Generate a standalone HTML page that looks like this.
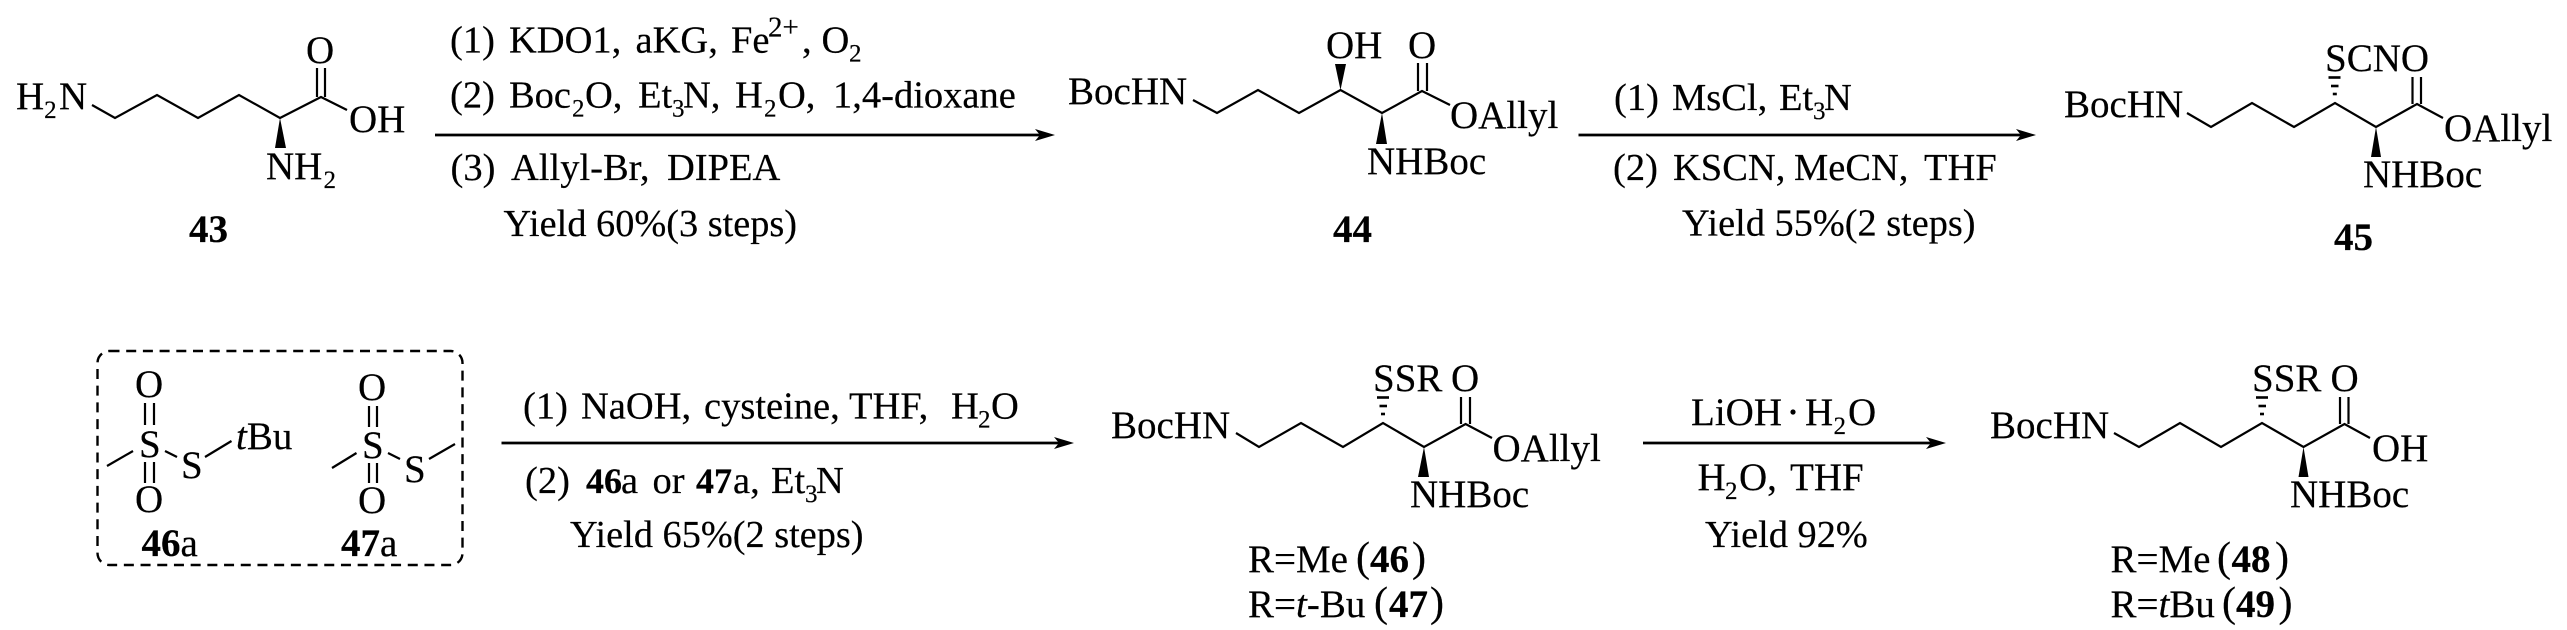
<!DOCTYPE html>
<html><head><meta charset="utf-8"><style>
html,body{margin:0;padding:0;background:#fff}
svg{display:block}
text{font-family:"Liberation Serif",serif;font-size:39px;fill:#000;stroke:#000;stroke-width:.2px}
.r{font-size:38.5px}
.y{font-size:38.3px}
.b{font-weight:bold}
.n{font-weight:bold;font-size:36px}
.i{font-style:italic}
.s{font-size:25px}
.u{font-size:29px}
.p{font-size:42px}
polyline,line{fill:none;stroke:#000;stroke-width:2.2}
.a{stroke-width:2.8}
</style></head><body>
<svg width="2567" height="630" viewBox="0 0 2567 630" xmlns="http://www.w3.org/2000/svg">
<rect width="2567" height="630" fill="#fff"/>

<!-- 43 -->
<text x="16" y="109">H<tspan class="s" dy="9">2</tspan><tspan x="59" dy="-9">N</tspan></text>
<polyline points="92,105 115,118 157,95 198,118 239,95 280,118 321,97 347,110"/>
<line x1="317" y1="97" x2="317" y2="68"/><line x1="325" y1="97" x2="325" y2="68"/>
<text x="306" y="63">O</text>
<text x="349" y="132">OH</text>
<polygon points="280,118 275,148 286,148"/>
<text x="266" y="179">NH<tspan class="s" x="323.5" dy="9">2</tspan></text>
<text class="b" x="189" y="242">43</text>

<!-- arrow 1 -->
<line class="a" x1="435" y1="135" x2="1045" y2="135"/>
<polygon points="1055,135 1035,129 1040,135 1035,141"/>
<text class="r" y="52.5"><tspan x="450">(1)</tspan><tspan x="509">KDO1,</tspan><tspan x="635.5">aKG,</tspan><tspan x="731">Fe</tspan><tspan class="u" x="768" dy="-16">2+</tspan><tspan x="802" dy="16">,</tspan><tspan x="821.5">O</tspan><tspan class="s" x="849" dy="9">2</tspan></text>
<text class="r" y="107.5"><tspan x="450">(2)</tspan><tspan x="509">Boc</tspan><tspan class="s" x="572" dy="9">2</tspan><tspan x="585" dy="-9">O,</tspan><tspan x="638">Et</tspan><tspan class="s" x="672" dy="9">3</tspan><tspan x="683" dy="-9">N,</tspan><tspan x="735">H</tspan><tspan class="s" x="764" dy="9">2</tspan><tspan x="778" dy="-9">O,</tspan><tspan x="833">1,4-dioxane</tspan></text>
<text class="r" y="180"><tspan x="450.5">(3)</tspan><tspan x="511">Allyl-Br,</tspan><tspan x="667">DIPEA</tspan></text>
<text class="y" x="503.5" y="236">Yield 60%(3 steps)</text>

<!-- 44 -->
<text x="1068" y="104">BocHN</text>
<polyline points="1193,100 1217,113 1258,90 1299,113 1340.5,90 1382,113 1422,91 1450,105"/>
<line x1="1418" y1="91" x2="1418" y2="63"/><line x1="1427" y1="91" x2="1427" y2="63"/>
<text x="1408" y="58">O</text>
<text x="1326" y="58">OH</text>
<polygon points="1340.5,90 1335,64 1346,64"/>
<text x="1450" y="128">OAllyl</text>
<polygon points="1382,113 1376,144 1387,144"/>
<text x="1367" y="174">NHBoc</text>
<text class="b" x="1333" y="242">44</text>

<!-- arrow 2 -->
<line class="a" x1="1578.5" y1="135" x2="2026" y2="135"/>
<polygon points="2036,135 2016,129 2021,135 2016,141"/>
<text class="r" y="110"><tspan x="1614">(1)</tspan><tspan x="1672">MsCl,</tspan><tspan x="1779">Et</tspan><tspan class="s" x="1813" dy="9">3</tspan><tspan x="1824" dy="-9">N</tspan></text>
<text class="r" y="180"><tspan x="1613">(2)</tspan><tspan x="1673">KSCN,</tspan><tspan x="1794">MeCN,</tspan><tspan x="1924">THF</tspan></text>
<text class="y" x="1682" y="235.5">Yield 55%(2 steps)</text>

<!-- 45 -->
<text x="2064" y="117">BocHN</text>
<polyline points="2187,113 2211,127 2252,103 2294,127 2335,103 2376,127 2417,104 2443,118"/>
<line x1="2412.5" y1="104" x2="2412.5" y2="77"/><line x1="2421" y1="104" x2="2421" y2="77"/>
<text x="2325" y="71">SCNO</text>
<g><line x1="2328.5" y1="77.5" x2="2340.5" y2="77.5" style="stroke-width:2.6"/><line x1="2331" y1="86" x2="2338.5" y2="86" style="stroke-width:2.6"/><line x1="2332.8" y1="94" x2="2336.8" y2="94" style="stroke-width:2.6"/></g>
<text x="2444" y="141">OAllyl</text>
<polygon points="2376,127 2371,157 2381,157"/>
<text x="2363" y="187">NHBoc</text>
<text class="b" x="2334" y="250">45</text>

<!-- dashed box -->
<rect x="97.5" y="351" width="365" height="214" rx="12" ry="12" fill="none" stroke="#000" stroke-width="2.4" stroke-dasharray="10 6.7"/>

<!-- 46a -->
<text x="135" y="397">O</text>
<line x1="145" y1="403" x2="145" y2="425"/><line x1="154" y1="403" x2="154" y2="425"/>
<text x="139" y="457">S</text>
<line x1="145" y1="462" x2="145" y2="483"/><line x1="154" y1="462" x2="154" y2="483"/>
<text x="135" y="512">O</text>
<line x1="107" y1="466" x2="133" y2="451"/>
<line x1="165" y1="451" x2="177" y2="457"/>
<text x="181" y="478">S</text>
<line x1="205" y1="457" x2="231.5" y2="441"/>
<text x="236" y="449"><tspan class="i">t</tspan>Bu</text>
<text x="141.5" y="556"><tspan class="b">46</tspan>a</text>

<!-- 47a -->
<text x="358" y="400">O</text>
<line x1="369" y1="406" x2="369" y2="427"/><line x1="377" y1="406" x2="377" y2="427"/>
<text x="362" y="458">S</text>
<line x1="369" y1="463" x2="369" y2="483"/><line x1="377" y1="463" x2="377" y2="483"/>
<text x="358" y="513">O</text>
<line x1="332" y1="468" x2="356.5" y2="453"/>
<line x1="388" y1="453" x2="400" y2="459"/>
<text x="404" y="482">S</text>
<line x1="429" y1="459" x2="455" y2="444"/>
<text x="341" y="556"><tspan class="b">47</tspan>a</text>

<!-- arrow 3 -->
<line class="a" x1="501.5" y1="443" x2="1064" y2="443"/>
<polygon points="1074,443 1054,437 1059,443 1054,449"/>
<text class="r" y="418.5"><tspan x="523">(1)</tspan><tspan x="581">NaOH,</tspan><tspan x="704">cysteine,</tspan><tspan x="849">THF,</tspan><tspan x="951">H</tspan><tspan class="s" x="978" dy="9">2</tspan><tspan x="991" dy="-9">O</tspan></text>
<text class="r" y="493"><tspan x="525">(2)</tspan><tspan class="n" x="586">46</tspan><tspan x="621">a</tspan><tspan x="652.5">or</tspan><tspan class="n" x="696">47</tspan><tspan x="733">a,</tspan><tspan x="771">Et</tspan><tspan class="s" x="805" dy="9">3</tspan><tspan x="816" dy="-9">N</tspan></text>
<text class="y" x="570" y="547">Yield 65%(2 steps)</text>

<!-- 46/47 -->
<text x="1111" y="438">BocHN</text>
<polyline points="1236,433 1259,447 1301,423 1343,447 1383,423 1424,447 1465.6,424 1492,438"/>
<line x1="1461" y1="424" x2="1461" y2="397"/><line x1="1470" y1="424" x2="1470" y2="397"/>
<text x="1373" y="391">SSR</text>
<text x="1451" y="391">O</text>
<g><line x1="1377" y1="397.5" x2="1389" y2="397.5" style="stroke-width:2.6"/><line x1="1379.5" y1="406" x2="1387" y2="406" style="stroke-width:2.6"/><line x1="1381" y1="414" x2="1385" y2="414" style="stroke-width:2.6"/></g>
<text x="1492.5" y="461">OAllyl</text>
<polygon points="1424,447 1418,477 1429,477"/>
<text x="1410" y="507">NHBoc</text>
<text x="1248" y="572">R=Me</text>
<text class="p" x="1356" y="571">(</text><text class="b" x="1370" y="572">46</text><text class="p" x="1412" y="571">)</text>
<text x="1248" y="617">R=<tspan class="i">t</tspan>-Bu</text>
<text class="p" x="1374" y="616">(</text><text class="b" x="1389" y="617">47</text><text class="p" x="1430" y="616">)</text>

<!-- arrow 4 -->
<line class="a" x1="1643" y1="443" x2="1936" y2="443"/>
<polygon points="1946,443 1926,437 1931,443 1926,449"/>
<text x="1691" y="425">LiOH</text>
<circle cx="1793" cy="412" r="2.6" fill="#000"/>
<text y="425"><tspan x="1805">H</tspan><tspan class="s" x="1833.5" dy="9">2</tspan><tspan x="1848" dy="-9">O</tspan></text>
<text y="490"><tspan x="1697.5">H</tspan><tspan class="s" x="1725" dy="9">2</tspan><tspan x="1739" dy="-9">O,</tspan><tspan x="1790">THF</tspan></text>
<text class="y" x="1705" y="547">Yield 92%</text>

<!-- 48/49 -->
<text x="1990" y="438">BocHN</text>
<polyline points="2114,433 2139,447 2180,423 2221,447 2262,423 2303.5,447 2344.5,424 2370,438"/>
<line x1="2340" y1="424" x2="2340" y2="397"/><line x1="2348.5" y1="424" x2="2348.5" y2="397"/>
<text x="2252" y="391">SSR</text>
<text x="2330.5" y="391">O</text>
<g><line x1="2256" y1="397.5" x2="2268" y2="397.5" style="stroke-width:2.6"/><line x1="2258.5" y1="406" x2="2266" y2="406" style="stroke-width:2.6"/><line x1="2260" y1="414" x2="2264" y2="414" style="stroke-width:2.6"/></g>
<text x="2372" y="461">OH</text>
<polygon points="2303.5,447 2298.5,477 2308.5,477"/>
<text x="2290" y="507">NHBoc</text>
<text x="2110.5" y="572">R=Me</text>
<text class="p" x="2217" y="571">(</text><text class="b" x="2231.5" y="572">48</text><text class="p" x="2275" y="571">)</text>
<text x="2110.5" y="617">R=<tspan class="i">t</tspan>Bu</text>
<text class="p" x="2222" y="616">(</text><text class="b" x="2236" y="617">49</text><text class="p" x="2278.5" y="616">)</text>
</svg>
</body></html>
